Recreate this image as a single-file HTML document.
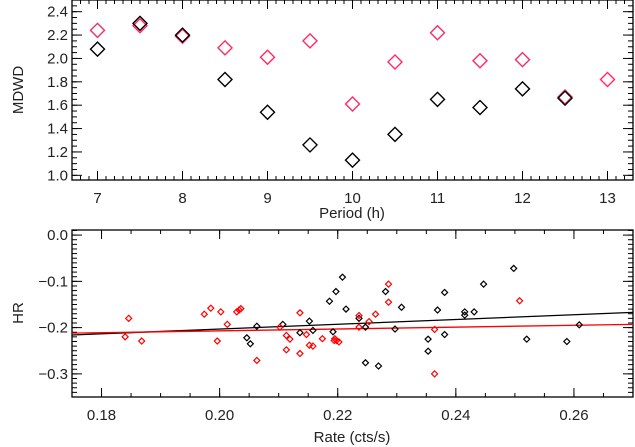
<!DOCTYPE html>
<html><head><meta charset="utf-8">
<style>
html,body{margin:0;padding:0;background:#fff;}
svg{display:block;font-family:"Liberation Sans","DejaVu Sans",sans-serif;}
</style></head>
<body>
<svg id="chart" width="635" height="447" viewBox="0 0 635 447" xmlns="http://www.w3.org/2000/svg"></svg>
<script>
// ---- Top panel data ----
const periodsBlack = [7,7.5,8,8.5,9,9.5,10,10.5,11,11.5,12,12.5];
const mdwdBlack = [2.08,2.30,2.20,1.82,1.54,1.26,1.13,1.35,1.65,1.58,1.74,1.66];
const periodsRed = [7,7.5,8,8.5,9,9.5,10,10.5,11,11.5,12,12.5,13];
const mdwdRed = [2.24,2.28,2.19,2.09,2.01,2.15,1.61,1.97,2.22,1.98,1.99,1.67,1.82];
const topXTicks = [7,8,9,10,11,12,13];
const topYTicks = [1.0,1.2,1.4,1.6,1.8,2.0,2.2,2.4];
// ---- Bottom panel data ----
const rateRed = [0.1840,0.1846,0.1868,0.1974,0.1985,0.2002,0.1996,0.2013,0.2029,0.2033,0.2036,0.2063,0.2102,0.2113,0.2119,0.2113,0.2136,0.2136,0.2147,0.2152,0.2158,0.2174,0.2195,0.2198,0.2202,0.2194,0.2236,0.2236,0.2253,0.2264,0.2286,0.2286,0.2364,0.2364,0.2508];
const hrRed = [-0.220,-0.180,-0.229,-0.171,-0.158,-0.166,-0.229,-0.193,-0.166,-0.162,-0.159,-0.271,-0.199,-0.217,-0.225,-0.248,-0.168,-0.256,-0.215,-0.238,-0.240,-0.224,-0.224,-0.228,-0.231,-0.228,-0.174,-0.199,-0.187,-0.171,-0.106,-0.145,-0.204,-0.300,-0.142];
const rateBlack = [0.2046,0.2052,0.2063,0.2107,0.2136,0.2152,0.2158,0.2186,0.2197,0.2208,0.2214,0.2192,0.2236,0.2247,0.2247,0.2269,0.2281,0.2297,0.2308,0.2353,0.2353,0.2369,0.2381,0.2381,0.2415,0.2415,0.2431,0.2447,0.2498,0.2520,0.2588,0.2609];
const hrBlack = [-0.222,-0.235,-0.197,-0.193,-0.211,-0.186,-0.206,-0.143,-0.122,-0.091,-0.160,-0.209,-0.180,-0.199,-0.276,-0.283,-0.122,-0.203,-0.156,-0.225,-0.251,-0.162,-0.124,-0.215,-0.166,-0.173,-0.166,-0.106,-0.072,-0.225,-0.230,-0.194];
const fitX = [0.175,0.27];
const fitBlack = [-0.216,-0.167];
const fitRed = [-0.212,-0.193];
const botXTicks = [0.18,0.20,0.22,0.24,0.26];
const botYTicks = [0.0,-0.1,-0.2,-0.3];

const NS="http://www.w3.org/2000/svg";
const svg=document.getElementById('chart');
function mk(tag,attrs,parent){const e=document.createElementNS(NS,tag);for(const k in attrs)e.setAttribute(k,attrs[k]);(parent||svg).appendChild(e);return e;}

// top scales
const T={x0:72,x1:633,y0:0,y1:180,xmin:6.7,xmax:13.3,ymin:0.96,ymax:2.5};
const B={x0:72,x1:633,y0:230,y1:397,xmin:0.175,xmax:0.27,ymin:-0.35,ymax:0.011};
function sx(P,v){return P.x0+(v-P.xmin)/(P.xmax-P.xmin)*(P.x1-P.x0);}
function sy(P,v){return P.y1-(v-P.ymin)/(P.ymax-P.ymin)*(P.y1-P.y0);}

function axes(P,xt,yt,xminor,yminor,xfmt,yfmt,prefix){
  const g=mk('g',{});
  
  
  mk('rect',{x:P.x0,y:P.y0,width:P.x1-P.x0,height:P.y1-P.y0,fill:'none',stroke:'#000','stroke-width':1.3},g);
  const st={stroke:'#000','stroke-width':1};
  for(let v=Math.ceil(P.xmin/xminor)*xminor;v<=P.xmax+1e-9;v+=xminor){
    const x=sx(P,v);
    mk('line',Object.assign({x1:x,x2:x,y1:P.y1,y2:P.y1-4},st),g);
    mk('line',Object.assign({x1:x,x2:x,y1:P.y0,y2:P.y0+4},st),g);
  }
  for(let v=Math.ceil(P.ymin/yminor)*yminor;v<=P.ymax+1e-9;v+=yminor){
    const y=sy(P,v);
    mk('line',Object.assign({x1:P.x0,x2:P.x0+5,y1:y,y2:y},st),g);
    mk('line',Object.assign({x1:P.x1,x2:P.x1-5,y1:y,y2:y},st),g);
  }
  xt.forEach(v=>{
    const x=sx(P,v);
    mk('line',Object.assign({x1:x,x2:x,y1:P.y1,y2:P.y1-9},st),g);
    mk('line',Object.assign({x1:x,x2:x,y1:P.y0,y2:P.y0+9},st),g);
    const t=mk('text',{x:x,y:P.y1+23,'text-anchor':'middle','font-size':15,fill:'#222'},g);
    t.textContent=xfmt(v);
    
    
  });
  yt.forEach(v=>{
    const y=sy(P,v);
    mk('line',Object.assign({x1:P.x0,x2:P.x0+10,y1:y,y2:y},st),g);
    mk('line',Object.assign({x1:P.x1,x2:P.x1-10,y1:y,y2:y},st),g);
    const t=mk('text',{x:P.x0-4,y:y+5,'text-anchor':'end','font-size':15,fill:'#222'},g);
    t.textContent=yfmt(v);
    
    
  });
}
axes(T,topXTicks,topYTicks,0.1,0.05,v=>String(v),v=>v.toFixed(1),'top');
axes(B,botXTicks,botYTicks,0.005,0.01,v=>v.toFixed(2),v=>(v===0?'0.0':'\u2212'+Math.abs(v).toFixed(1)),'bottom');

function label(txt,x,y,rot,name){
  const t=mk('text',{x:x,y:y,'text-anchor':'middle','font-size':15,fill:'#222'});
  if(rot)t.setAttribute('transform','rotate(-90 '+x+' '+y+')');
  t.textContent=txt;
  
  
}
label('Period (h)',352,218,false,'x-axis-title-period');
label('MDWD',23,90,true,'y-axis-title-mdwd');
label('Rate (cts/s)',352,442,false,'x-axis-title-rate');
label('HR',23,313,true,'y-axis-title-hr');

function diamond(P,xv,yv,r,color,sw,name){
  const x=sx(P,xv),y=sy(P,yv);
  const p=mk('polygon',{points:`${x},${y-r} ${x+r},${y} ${x},${y+r} ${x-r},${y}`,fill:'none',stroke:color,'stroke-width':sw});
  
  
}
periodsRed.forEach((p,i)=>diamond(T,p,mdwdRed[i],7,'#ff2a66',1.4,'mdwd-red-point'));
periodsBlack.forEach((p,i)=>diamond(T,p,mdwdBlack[i],7,'#000',1.4,'mdwd-black-point'));

// fit lines
const lb=mk('line',{x1:sx(B,fitX[0]),y1:sy(B,fitBlack[0]),x2:sx(B,fitX[1]),y2:sy(B,fitBlack[1]),stroke:'#000','stroke-width':1.3});


const lr=mk('line',{x1:sx(B,fitX[0]),y1:sy(B,fitRed[0]),x2:sx(B,fitX[1]),y2:sy(B,fitRed[1]),stroke:'#ff0000','stroke-width':1.3});



rateBlack.forEach((r,i)=>diamond(B,r,hrBlack[i],3,'#000',1.2,'hr-black-point'));
rateRed.forEach((r,i)=>diamond(B,r,hrRed[i],3,'#ff0000',1.2,'hr-red-point'));
</script>
</body></html>
